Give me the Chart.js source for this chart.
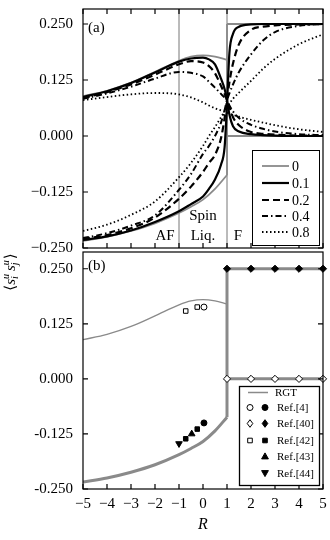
<!DOCTYPE html>
<html>
<head>
<meta charset="utf-8">
<script src="https://cdn.jsdelivr.net/npm/chart.js@4/dist/chart.umd.min.js"></script>
<style>
  body { margin: 0; background: #fff; width: 330px; height: 540px; overflow: hidden; position: relative; }
  canvas { position: absolute; left: 0; }
  #ca { top: 0; }
  #cb { top: 247px; }
  #ov { top: 0; pointer-events: none; }
</style>
</head>
<body>
<canvas id="ca" width="330" height="262"></canvas>
<canvas id="cb" width="330" height="293"></canvas>
<canvas id="ov" width="330" height="540"></canvas>
<script>
// axes
const xTicks = [-5, -4, -3, -2, -1, 0, 1, 2, 3, 4, 5];
const xTickLabels = ["−5", "−4", "−3", "−2", "−1", "0", "1", "2", "3", "4", "5"];
const yTicks = [-0.25, -0.125, 0, 0.125, 0.25];
const yTickLabelsA = ["−0.250", "−0.125", "0.000", "0.125", "0.250"];
const yTickLabelsB = ["-0.250", "-0.125", "0.000", "0.125", "0.250"];

// phase boundaries
const phaseR = [-1, 1];

// panel (a): curves for each parameter, upper and lower branch
const params = ["0", "0.1", "0.2", "0.4", "0.8"];
const rGrid = [-5, -4, -3, -2, -1, -0.5, 0, 0.25, 0.5, 0.75, 0.9, 1, 1.1, 1.25, 1.5, 2, 2.5, 3, 4, 5];
const up01 = [0.087, 0.100, 0.118, 0.142, 0.166, 0.173, 0.175, 0.171, 0.160, 0.128, 0.105, 0.080, 0.048, 0.022, 0.010, 0.004, 0.002, 0.001, 0.000, 0.000];
const lo01 = [-0.232, -0.224, -0.211, -0.192, -0.168, -0.152, -0.135, -0.118, -0.097, -0.064, -0.025, 0.070, 0.185, 0.228, 0.244, 0.249, 0.250, 0.250, 0.250, 0.250];
const up02 = [0.085, 0.098, 0.115, 0.137, 0.160, 0.167, 0.164, 0.156, 0.140, 0.112, 0.094, 0.080, 0.065, 0.042, 0.024, 0.009, 0.005, 0.003, 0.001, 0.001];
const lo02 = [-0.230, -0.221, -0.206, -0.182, -0.140, -0.113, -0.080, -0.060, -0.042, -0.005, 0.040, 0.080, 0.120, 0.162, 0.205, 0.237, 0.244, 0.247, 0.249, 0.250];
const up04 = [0.083, 0.095, 0.110, 0.128, 0.143, 0.141, 0.133, 0.121, 0.108, 0.094, 0.086, 0.080, 0.068, 0.055, 0.040, 0.025, 0.016, 0.010, 0.004, 0.002];
const lo04 = [-0.228, -0.217, -0.200, -0.177, -0.120, -0.085, -0.040, -0.022, 0.000, 0.030, 0.058, 0.080, 0.095, 0.115, 0.143, 0.182, 0.213, 0.232, 0.246, 0.250];
const up08 = [0.080, 0.087, 0.093, 0.096, 0.093, 0.086, 0.075, 0.068, 0.062, 0.057, 0.054, 0.052, 0.050, 0.047, 0.043, 0.036, 0.030, 0.024, 0.015, 0.009];
const lo08 = [-0.212, -0.198, -0.176, -0.146, -0.092, -0.060, -0.022, 0.000, 0.020, 0.042, 0.055, 0.064, 0.072, 0.083, 0.097, 0.123, 0.150, 0.172, 0.205, 0.227];

// RGT (parameter 0)
const rgtR = [-5, -4, -3, -2, -1, -0.5, 0, 0.5, 1];
const rgtUp = [0.089, 0.101, 0.119, 0.143, 0.168, 0.177, 0.180, 0.177, 0.170];
const rgtLo = [-0.234, -0.225, -0.212, -0.195, -0.172, -0.158, -0.142, -0.118, -0.087];
const ferroR = [1, 2, 3, 4, 5];
const ferroHi = [0.25, 0.25, 0.25, 0.25, 0.25];
const ferroLo = [0, 0, 0, 0, 0];

// panel (b): literature points
const ref4R = [0.04];
const ref4Up = [0.163];
const ref4Lo = [-0.100];
const ref40R = [1, 2, 3, 4, 5];
const ref40Up = [0.25, 0.25, 0.25, 0.25, 0.25];
const ref40Lo = [0, 0, 0, 0, 0];
const ref42R = [-0.72, -0.24];
const ref42Up = [0.154, 0.163];
const ref42Lo = [-0.136, -0.114];
const ref43R = [-0.47];
const ref43Lo = [-0.125];
const ref44R = [-1.0];
const ref44Lo = [-0.147];

const SERIF = '"Liberation Serif", "DejaVu Serif", serif';
const GRAY = "#8a8a8a";
const yMaxA = 0.2835;
const yMaxB = 0.288;

const pts = (xs, ys) => xs.map((x, i) => ({ x: x, y: ys[i] }));

const styles = [
  { color: GRAY, width: 1.8, dash: [] },
  { color: "#000", width: 2.2, dash: [] },
  { color: "#000", width: 2.2, dash: [7, 4] },
  { color: "#000", width: 2, dash: [6, 3, 1.5, 3] },
  { color: "#000", width: 1.8, dash: [1.5, 2.5] },
];

function lineSet(data, st, order, smooth) {
  return {
    data: data,
    borderColor: st.color,
    borderWidth: st.width,
    borderDash: st.dash,
    borderCapStyle: "butt",
    pointRadius: 0,
    fill: false,
    order: order,
    cubicInterpolationMode: smooth ? "monotone" : "default",
    tension: 0,
  };
}

function markSet(data, style, filled, radius, rot) {
  return {
    data: data,
    showLine: false,
    clip: false,
    pointStyle: style,
    pointRadius: radius,
    pointRotation: rot || 0,
    pointBackgroundColor: filled ? "#000" : "#fff",
    pointBorderColor: "#000",
    pointBorderWidth: 1,
    order: 0,
  };
}

function noPad(s) {
  s.paddingTop = 0;
  s.paddingBottom = 0;
  s.paddingLeft = 0;
  s.paddingRight = 0;
}

function yAxis(labels, ymax) {
  return {
    type: "linear",
    min: -0.25,
    max: ymax,
    afterBuildTicks: (s) => { s.ticks = yTicks.map((v) => ({ value: v })); },
    afterFit: (s) => { s.width = 83; noPad(s); },
    grid: { display: false, drawTicks: false },
    border: { display: false },
    ticks: {
      padding: 10,
      color: "#000",
      font: { family: SERIF, size: 15 },
      callback: (v) => labels[yTicks.indexOf(v)],
    },
  };
}

function frameTicks(chart, top) {
  const { ctx, chartArea: a, scales } = chart;
  ctx.save();
  ctx.strokeStyle = "#000";
  ctx.lineWidth = 1.2;
  ctx.setLineDash([]);
  ctx.strokeRect(a.left, a.top, a.right - a.left, a.bottom - a.top);
  ctx.beginPath();
  xTicks.forEach((v) => {
    const px = scales.x.getPixelForValue(v);
    if (top) { ctx.moveTo(px, a.top); ctx.lineTo(px, a.top + 5); }
    ctx.moveTo(px, a.bottom); ctx.lineTo(px, a.bottom - 5);
  });
  yTicks.forEach((v) => {
    const py = scales.y.getPixelForValue(v);
    ctx.moveTo(a.left, py); ctx.lineTo(a.left + 5, py);
    ctx.moveTo(a.right, py); ctx.lineTo(a.right - 5, py);
  });
  ctx.stroke();
  ctx.restore();
}

// ---------- panel (a)
const upA = [up01, up02, up04, up08];
const loA = [lo01, lo02, lo04, lo08];
const dsA = [];
phaseR.forEach((r) => {
  dsA.push(lineSet([{ x: r, y: -0.25 }, { x: r, y: yMaxA }], { color: "#777", width: 1, dash: [] }, 6, false));
});
dsA.push(lineSet(pts(rgtR, rgtUp), styles[0], 5, true));
dsA.push(lineSet(pts(rgtR, rgtLo), styles[0], 5, true));
dsA.push(lineSet([{ x: rgtR[rgtR.length - 1], y: rgtLo[rgtLo.length - 1] }, { x: ferroR[0], y: ferroHi[0] }], styles[0], 5, false));
dsA.push(lineSet(pts(ferroR, ferroHi), styles[0], 5, false));
dsA.push(lineSet(pts(ferroR, ferroLo), styles[0], 5, false));
for (let i = 0; i < upA.length; i++) {
  dsA.push(lineSet(pts(rGrid, upA[i]), styles[i + 1], 4 - i, true));
  dsA.push(lineSet(pts(rGrid, loA[i]), styles[i + 1], 4 - i, true));
}

const panelA = {
  id: "panelA",
  afterDraw(chart) {
    frameTicks(chart, true);
    const ctx = chart.ctx;
    ctx.save();
    ctx.fillStyle = "#000";
    ctx.font = "15px " + SERIF;
    ctx.textBaseline = "middle";
    ctx.textAlign = "left";
    ctx.fillText("(a)", 88, 28);
    ctx.textAlign = "center";
    ctx.fillText("AF", 165, 236);
    ctx.fillText("Spin", 203, 216);
    ctx.fillText("Liq.", 203, 236);
    ctx.fillText("F", 238, 236);

    // legend
    ctx.fillStyle = "#fff";
    ctx.fillRect(252, 150, 67, 95);
    ctx.strokeStyle = "#000";
    ctx.lineWidth = 1;
    ctx.strokeRect(252.5, 150.5, 67, 95);
    const rows = [166, 183, 200, 216, 232];
    ctx.font = "14px " + SERIF;
    ctx.textAlign = "left";
    params.forEach((p, i) => {
      const st = styles[i];
      ctx.beginPath();
      ctx.strokeStyle = st.color;
      ctx.lineWidth = st.width;
      ctx.setLineDash(st.dash);
      ctx.moveTo(262, rows[i]);
      ctx.lineTo(289, rows[i]);
      ctx.stroke();
      ctx.setLineDash([]);
      ctx.fillStyle = "#000";
      ctx.fillText(p, 292, rows[i] + 1);
    });
    ctx.restore();
  },
};

new Chart(document.getElementById("ca"), {
  type: "line",
  data: { datasets: dsA },
  options: {
    responsive: false,
    animation: false,
    layout: { padding: { top: 9, right: 7, bottom: 14, left: 0 } },
    plugins: { legend: { display: false }, tooltip: { enabled: false } },
    scales: {
      x: { type: "linear", min: -5, max: 5, display: false },
      y: yAxis(yTickLabelsA, yMaxA),
    },
  },
  plugins: [panelA],
});

// ---------- panel (b)
const dsB = [
  markSet(pts(ref4R, ref4Up), "circle", false, 3),
  markSet(pts(ref4R, ref4Lo), "circle", true, 3),
  markSet(pts(ref40R, ref40Up), "rectRot", true, 3.6),
  markSet(pts(ref40R, ref40Lo), "rectRot", false, 3.6),
  markSet(pts(ref42R, ref42Up), "rect", false, 3.2),
  markSet(pts(ref42R, ref42Lo), "rect", true, 3.2),
  markSet(pts(ref43R, ref43Lo), "triangle", true, 3.8),
  markSet(pts(ref44R, ref44Lo), "triangle", true, 3.8, 180),
  lineSet(pts(rgtR, rgtUp), { color: GRAY, width: 1.3, dash: [] }, 5, true),
  lineSet(pts(rgtR, rgtLo), { color: GRAY, width: 3, dash: [] }, 5, true),
  lineSet([{ x: rgtR[rgtR.length - 1], y: rgtLo[rgtLo.length - 1] }, { x: ferroR[0], y: ferroHi[0] }], { color: GRAY, width: 3, dash: [] }, 5, false),
  lineSet(pts(ferroR, ferroHi), { color: GRAY, width: 3, dash: [] }, 5, false),
  lineSet(pts(ferroR, ferroLo), { color: GRAY, width: 3, dash: [] }, 5, false),
];

function glyph(ctx, kind, x, y, filled) {
  ctx.beginPath();
  if (kind === "circle") ctx.arc(x, y, 3, 0, Math.PI * 2);
  else if (kind === "square") ctx.rect(x - 2.3, y - 2.3, 4.6, 4.6);
  else if (kind === "diamond") { ctx.moveTo(x, y - 3.8); ctx.lineTo(x + 2.8, y); ctx.lineTo(x, y + 3.8); ctx.lineTo(x - 2.8, y); ctx.closePath(); }
  else if (kind === "up") { ctx.moveTo(x, y - 3.6); ctx.lineTo(x + 3.4, y + 2.4); ctx.lineTo(x - 3.4, y + 2.4); ctx.closePath(); }
  else if (kind === "down") { ctx.moveTo(x, y + 3.6); ctx.lineTo(x + 3.4, y - 2.4); ctx.lineTo(x - 3.4, y - 2.4); ctx.closePath(); }
  ctx.fillStyle = filled ? "#000" : "#fff";
  ctx.fill();
  ctx.strokeStyle = "#000";
  ctx.lineWidth = 1;
  ctx.stroke();
}

const legendB = [
  { label: "RGT" },
  { label: "Ref.[4]", open: "circle", full: "circle" },
  { label: "Ref.[40]", open: "diamond", full: "diamond" },
  { label: "Ref.[42]", open: "square", full: "square" },
  { label: "Ref.[43]", full: "up" },
  { label: "Ref.[44]", full: "down" },
];

const panelB = {
  id: "panelB",
  afterDraw(chart) {
    frameTicks(chart, false);
    const ctx = chart.ctx;
    ctx.save();
    ctx.fillStyle = "#000";
    ctx.font = "15px " + SERIF;
    ctx.textBaseline = "middle";
    ctx.textAlign = "left";
    ctx.fillText("(b)", 88, 19);

    // legend (canvas top is at 247)
    ctx.fillStyle = "#fff";
    ctx.fillRect(239, 139, 80, 99);
    ctx.strokeStyle = "#000";
    ctx.lineWidth = 1.3;
    ctx.strokeRect(239.5, 139.5, 80, 99);
    const rows = [145.5, 160.5, 176.5, 193.5, 209.5, 226];
    ctx.font = "11px " + SERIF;
    legendB.forEach((e, i) => {
      const y = rows[i];
      if (i === 0) {
        ctx.beginPath();
        ctx.strokeStyle = GRAY;
        ctx.lineWidth = 1.5;
        ctx.moveTo(248, y);
        ctx.lineTo(268, y);
        ctx.stroke();
        ctx.fillStyle = "#000";
        ctx.fillText(e.label, 275, y + 1);
        return;
      }
      if (e.open) glyph(ctx, e.open, 250, y, false);
      if (e.full) glyph(ctx, e.full, 265, y, true);
      ctx.fillStyle = "#000";
      ctx.fillText(e.label, 277, y + 1);
    });
    ctx.restore();
  },
};

new Chart(document.getElementById("cb"), {
  type: "line",
  data: { datasets: dsB },
  options: {
    responsive: false,
    animation: false,
    layout: { padding: { top: 1, right: 7, bottom: 0, left: 0 } },
    plugins: { legend: { display: false }, tooltip: { enabled: false } },
    scales: {
      x: {
        type: "linear",
        min: -5,
        max: 5,
        afterBuildTicks: (s) => { s.ticks = xTicks.map((v) => ({ value: v })); },
        afterFit: (s) => { s.height = 51; noPad(s); },
        grid: { display: false, drawTicks: false },
        border: { display: false },
        ticks: {
          padding: 6,
          color: "#000",
          maxRotation: 0,
          font: { family: SERIF, size: 15 },
          callback: (v) => xTickLabels[xTicks.indexOf(v)],
        },
        title: {
          display: true,
          text: "R",
          color: "#000",
          padding: { top: 0, bottom: 6 },
          font: { family: SERIF, size: 16, style: "italic" },
        },
      },
      y: yAxis(yTickLabelsB, yMaxB),
    },
  },
  plugins: [panelB],
});

// ---------- y-axis title
(function () {
  const ctx = document.getElementById("ov").getContext("2d");
  ctx.save();
  ctx.translate(15, 272);
  ctx.rotate(-Math.PI / 2);
  ctx.fillStyle = "#000";
  ctx.textBaseline = "alphabetic";
  const big = "15px " + SERIF;
  const bigI = "italic 15px " + SERIF;
  const small = "italic 10px " + SERIF;
  const parts = [
    { t: "⟨", f: big },
    { t: "s", f: bigI, sub: "i", sup: "u" },
    { t: "s", f: bigI, sub: "j", sup: "u", gap: 2 },
    { t: "⟩", f: big },
  ];
  let w = 0;
  parts.forEach((p) => {
    ctx.font = p.f;
    p.w = ctx.measureText(p.t).width;
    p.sw = 0;
    if (p.sub) {
      ctx.font = small;
      p.sw = Math.max(ctx.measureText(p.sub).width, ctx.measureText(p.sup).width) + 1;
    }
    w += p.w + p.sw + (p.gap || 0);
  });
  let x = -w / 2;
  parts.forEach((p) => {
    x += p.gap || 0;
    ctx.font = p.f;
    ctx.fillText(p.t, x, 0);
    x += p.w;
    if (p.sub) {
      ctx.font = small;
      ctx.fillText(p.sub, x, 3);
      ctx.fillText(p.sup, x, -6);
      x += p.sw;
    }
  });
  ctx.restore();
})();
</script>
</body>
</html>
